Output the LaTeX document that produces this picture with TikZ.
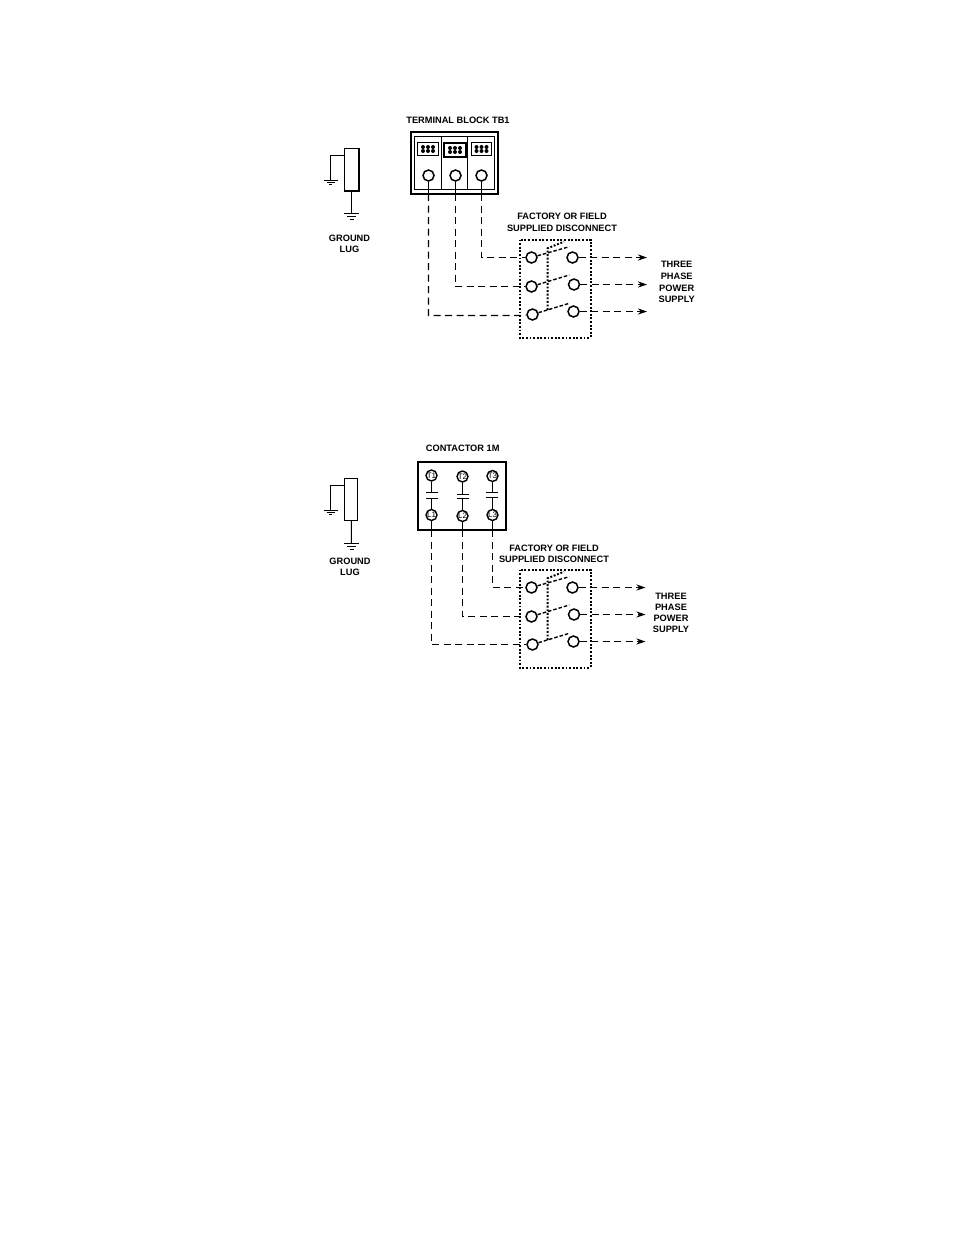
\documentclass[tikz,border=0pt]{standalone}
\usepackage{fontspec}
\setmainfont{Liberation Sans}
\usetikzlibrary{arrows.meta}
\tikzset{
  lbl/.style={font=\bfseries\fontsize{9.25}{10}\selectfont, inner sep=0pt},
  term/.style={circle, draw, line width=1.5pt, minimum size=11pt, inner sep=0pt},
  tag/.style={term, line width=1.4pt, font=\fontsize{8}{8}\selectfont},
  wire/.style={dash pattern=on 7pt off 4.5pt, line width=1.1pt},
  feed/.style={wire, -{Stealth[length=9pt,width=6pt]}},
  blade/.style={dash pattern=on 3.5pt off 2pt, line width=1.4pt},
  dots/.style={dash pattern=on 1.9pt off 1.7pt, line width=2pt},
  thin line/.style={line width=1pt},
  thick line/.style={line width=1.7pt},
  gnd bar/.style={line width=1.4pt},
  pin/.style={circle, fill, minimum size=4pt, inner sep=0pt}
}
\begin{document}
\begin{tikzpicture}[x=1pt,y=-1pt]
  \useasboundingbox (0,0) rectangle (954,1235);
  \fill[white] (0,0) rectangle (954,1235);

  % terminal block
  \node[lbl] at (458,120.5) {TERMINAL BLOCK TB1};
  \node[draw, line width=2pt, minimum width=87pt, minimum height=62pt] (tb) at (454.5,163) {};
  \node[draw, line width=1pt, minimum width=27pt, minimum height=53pt] (cellA) at (428,163) {};
  \node[draw, line width=1pt, minimum width=26pt, minimum height=53pt] (cellB) at (454.5,163) {};
  \node[draw, line width=1pt, minimum width=27pt, minimum height=53pt] (cellC) at (481,163) {};
  \node[draw, line width=1pt, minimum width=21pt, minimum height=13pt] (plugA) at (428,149) {};
  \node[draw, line width=2pt, minimum width=22pt, minimum height=14pt] (plugB) at (455,150) {};
  \node[draw, line width=1pt, minimum width=20pt, minimum height=13pt] (plugC) at (481.5,149) {};
  \foreach \px/\py in {428/149,455/150,481.5/149}
    \foreach \dx in {-5,0,5}
      \foreach \dy in {-2,2}
        \node[pin] at (\px+\dx,\py+\dy) {};
  \node[term] (ta) at (428.5,175.5) {};
  \node[term] (tb2) at (455.5,175.5) {};
  \node[term] (tc) at (481.5,175.5) {};

  % first disconnect
  \node[lbl] at (562,216.7) {FACTORY OR FIELD};
  \node[lbl] at (562,228) {SUPPLIED DISCONNECT};
  \draw[dots] (519.5,239.5) rectangle (590.5,337.5);
  \node[term] (la) at (531.5,257.5) {};
  \node[term] (lb) at (531.5,286.5) {};
  \node[term] (lc) at (532.5,314.5) {};
  \node[term] (ra) at (572.5,257.5) {};
  \node[term] (rb) at (574,284.5) {};
  \node[term] (rc) at (573.5,311.5) {};
  \coordinate (bladeA) at (569.3,246.7);
  \coordinate (bladeB) at (569.3,275);
  \coordinate (bladeC) at (569.3,303.3);
  \draw[blade] (la) -- (bladeA);
  \draw[blade] (lb) -- (bladeB);
  \draw[blade] (lc) -- (bladeC);
  \draw[dots] (547.5,310) -- (547.5,248.3) -- (564,241.7);
  \coordinate (endA) at (647,257.5);
  \coordinate (endB) at (647,284.5);
  \coordinate (endC) at (647,311.5);
  \draw[feed] (ra) -- (endA);
  \draw[feed] (rb) -- (endB);
  \draw[feed] (rc) -- (endC);
  \draw[thin line] (ta) -- (428.5,194);
  \draw[thin line] (tb2) -- (455.5,194);
  \draw[thin line] (tc) -- (481.5,194);
  \draw[wire] (428.5,194) |- (lc.west |- 0,315.5) -- (lc);
  \draw[wire] (455.5,194) |- (lb);
  \draw[wire] (481.5,194) |- (la);
  \node[lbl] at (676.7,264.5) {THREE};
  \node[lbl] at (676.7,276) {PHASE};
  \node[lbl] at (676.7,288) {POWER};
  \node[lbl] at (676.7,299) {SUPPLY};

  % ground lug, upper
  \node[draw, line width=1.2pt, minimum width=14pt, minimum height=42pt] (lugA) at (351.5,169.5) {};
  \draw[thick line] (lugA.north east) -- (lugA.south east) -- (lugA.south west);
  \coordinate (gndA) at (330.5,180.5);
  \coordinate (gndB) at (351.5,213.5);
  \draw[thin line] (lugA.west |- 0,155.5) -| (gndA);
  \draw[thin line] (lugA) -- (gndB);
  \draw[gnd bar] (323.5,180.5) -- (338,180.5) (326.5,182.5) -- (335,182.5) (329,184.5) -- (332,184.5);
  \draw[gnd bar] (344.3,213.5) -- (359,213.5) (347,216.5) -- (356,216.5) (349.5,219.5) -- (353.5,219.5);
  \node[lbl] at (349.5,238) {GROUND};
  \node[lbl] at (349.5,249) {LUG};

  % contactor
  \node[lbl] at (462.7,448) {CONTACTOR 1M};
  \node[draw, line width=2pt, minimum width=88pt, minimum height=68pt] (con) at (462,496) {};
  \node[tag] (t1) at (431.5,475.5) {T1};
  \node[tag] (t2) at (462.5,476.5) {T2};
  \node[tag] (t3) at (492.5,476) {T3};
  \node[tag] (l1) at (431.5,515) {L1};
  \node[tag] (l2) at (462.5,516) {L2};
  \node[tag] (l3) at (492.5,515) {L3};
  \draw[thick line] (t1) -- (431.5,492.5) (426,492.5) -- (438,492.5);
  \draw[thick line] (t3) -- (492.5,492.5) (486.3,492.5) -- (498.3,492.5);
  \draw[thick line] (431.5,498.5) -- (l1);
  \draw[thin line] (426,498.5) -- (438,498.5);
  \draw[thick line] (486.3,497.5) -- (498.3,497.5) (492.5,497.5) -- (l3);
  \draw[thin line] (t2) -- (462.5,494.5) (456.7,494.5) -- (468.7,494.5);
  \draw[thin line] (456.7,498.5) -- (468.7,498.5) (462.5,498.5) -- (l2);

  % second disconnect
  \node[lbl] at (554,548) {FACTORY OR FIELD};
  \node[lbl] at (554,559.8) {SUPPLIED DISCONNECT};
  \draw[dots] (519.5,569.5) rectangle (590.5,667.5);
  \node[term] (lla) at (531.5,587.5) {};
  \node[term] (llb) at (531.5,616.5) {};
  \node[term] (llc) at (532.5,644.5) {};
  \node[term] (rra) at (572.5,587.5) {};
  \node[term] (rrb) at (574,614.5) {};
  \node[term] (rrc) at (573.5,641.5) {};
  \coordinate (blade2A) at (569.3,576.7);
  \coordinate (blade2B) at (569.3,605);
  \coordinate (blade2C) at (569.3,633.3);
  \draw[blade] (lla) -- (blade2A);
  \draw[blade] (llb) -- (blade2B);
  \draw[blade] (llc) -- (blade2C);
  \draw[dots] (547.5,640) -- (547.5,578.3) -- (564,571.7);
  \coordinate (end2A) at (645.5,587.5);
  \coordinate (end2B) at (645.5,614.5);
  \coordinate (end2C) at (645.5,641.5);
  \draw[feed] (rra) -- (end2A);
  \draw[feed] (rrb) -- (end2B);
  \draw[feed] (rrc) -- (end2C);
  \draw[thin line] (l1) -- (431.5,530);
  \draw[thin line] (l2) -- (462.5,530);
  \draw[thin line] (l3) -- (492.5,530);
  \draw[wire] (431.5,530) |- (llc);
  \draw[wire] (462.5,530) |- (llb);
  \draw[wire] (492.5,530) |- (lla);
  \node[lbl] at (671,596) {THREE};
  \node[lbl] at (671,607) {PHASE};
  \node[lbl] at (671,618.3) {POWER};
  \node[lbl] at (671,629.7) {SUPPLY};

  % ground lug, lower
  \node[draw, line width=1.2pt, minimum width=13pt, minimum height=42pt] (lugB) at (351,499.5) {};
  \coordinate (gndC) at (330.5,510.5);
  \coordinate (gndD) at (351.5,543.5);
  \draw[thin line] (lugB.west |- 0,485.5) -| (gndC);
  \draw[thin line] (lugB) -- (gndD);
  \draw[gnd bar] (323.5,510.5) -- (338,510.5) (326.5,512.5) -- (335,512.5) (329,514.5) -- (332,514.5);
  \draw[gnd bar] (344.3,543.5) -- (359,543.5) (347,546.5) -- (356,546.5) (349.5,549.5) -- (353.5,549.5);
  \node[lbl] at (350,561) {GROUND};
  \node[lbl] at (350,572) {LUG};
\end{tikzpicture}
\end{document}
